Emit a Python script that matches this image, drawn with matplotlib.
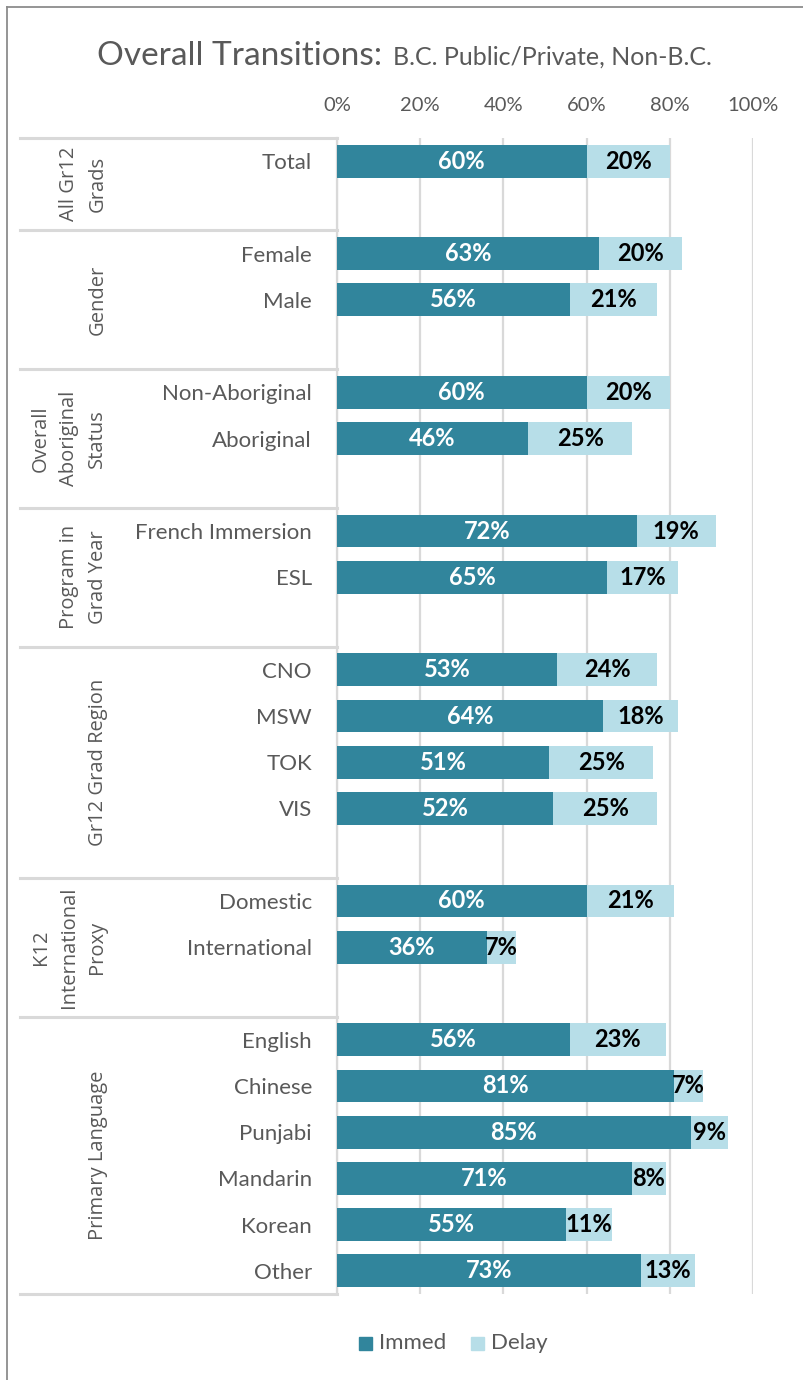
import matplotlib
matplotlib.use('Agg')
import matplotlib.pyplot as plt
import matplotlib.transforms as mtransforms
from matplotlib.lines import Line2D
from matplotlib.patches import Rectangle

# ---------------- data ----------------
categories = ["Total", "Female", "Male", "Non-Aboriginal", "Aboriginal",
              "French Immersion", "ESL", "CNO", "MSW", "TOK", "VIS",
              "Domestic", "International", "English", "Chinese", "Punjabi",
              "Mandarin", "Korean", "Other"]
immed = [60, 63, 56, 60, 46, 72, 65, 53, 64, 51, 52, 60, 36, 56, 81, 85, 71, 55, 73]
delay = [20, 20, 21, 20, 25, 19, 17, 24, 18, 25, 25, 21, 7, 23, 7, 9, 8, 11, 13]
groups = ["All Gr12\nGrads", "Gender", "Overall\nAboriginal\nStatus",
          "Program in\nGrad Year", "Gr12 Grad Region",
          "K12\nInternational\nProxy", "Primary Language"]
group_sizes = [1, 2, 2, 2, 4, 2, 6]
xticks = [0, 20, 40, 60, 80, 100]
series_names = ["Immed", "Delay"]

# ---------------- style ----------------
W, H = 804, 1380
C_IMMED = "#31859C"
C_DELAY = "#B7DEE8"
GRID = "#D9D9D9"
TXT = "#595959"
FONT = ["Lato", "DejaVu Sans"]
GFONT = ["Open Sans", "DejaVu Sans"]

fig = plt.figure(figsize=(W / 100, H / 100), dpi=100)
ax = fig.add_axes([337 / W, 1 - 1294 / H, 416 / W, 1156 / H])

# slot positions (blank slot after each group except the last)
positions = []
spans = []
slot = 0
for gi, n in enumerate(group_sizes):
    start = slot
    for k in range(n):
        positions.append(slot)
        slot += 1
    if gi < len(group_sizes) - 1:
        slot += 1
    spans.append((start - 0.5, slot - 0.5))
nslots = slot

bh = 0.71
ax.barh(positions, immed, height=bh, color=C_IMMED, zorder=3)
ax.barh(positions, delay, left=immed, height=bh, color=C_DELAY, zorder=3)

for y, a, d in zip(positions, immed, delay):
    ax.text(a / 2, y, f"{a}%", ha="center", va="center", color="white",
            fontsize=17, fontweight="bold", family=FONT, zorder=4)
    ax.text(a + d / 2, y, f"{d}%", ha="center", va="center", color="black",
            fontsize=17, fontweight="bold", family=FONT, zorder=4)

ax.set_xlim(0, 100)
ax.set_ylim(nslots - 0.5, -0.5)
ax.set_xticks(xticks)
ax.set_xticklabels([f"{t}%" for t in xticks], family=FONT, fontsize=14.5, color=TXT)
ax.xaxis.tick_top()
ax.tick_params(axis="x", length=0, pad=17)
ax.set_yticks(positions)
ax.set_yticklabels(categories, family=FONT, fontsize=16, color=TXT)
ax.tick_params(axis="y", length=0, pad=18)
ax.grid(axis="x", color=GRID, lw=1.6, zorder=0)
for s in ["top", "right", "bottom"]:
    ax.spines[s].set_visible(False)
ax.spines["left"].set_color(GRID)
ax.spines["left"].set_linewidth(1.6)

# separators and group labels
blend = mtransforms.blended_transform_factory(fig.transFigure, ax.transData)
x0 = 20 / W
x1 = 337 / W
bounds = sorted(set([b for sp in spans for b in sp]))
for b in bounds:
    ax.add_line(Line2D([x0, x1], [b, b], transform=blend, color=GRID, lw=2.2,
                       clip_on=False, zorder=1))

for g, (a, b) in zip(groups, spans):
    n = g.count("\n") + 1
    cx = (98 - (n - 1) * 29 / 2) / W
    ax.text(cx, (a + b) / 2, g, transform=blend, rotation=90, ha="center",
            va="center", multialignment="center", fontsize=14.5, color=TXT,
            family=GFONT, linespacing=1.55)

# title
fig.text(97 / W, 1 - 65 / H, "Overall Transitions:", fontsize=24, color=TXT,
         family=FONT, ha="left", va="baseline")
fig.text(393 / W, 1 - 65 / H, "B.C. Public/Private, Non-B.C.", fontsize=18,
         color=TXT, family=FONT, ha="left", va="baseline")

# legend
ly = 1 - 1343 / H
for xpx, name, col in [(359, series_names[0], C_IMMED), (471, series_names[1], C_DELAY)]:
    fig.patches.append(Rectangle(((xpx) / W, ly - 7 / H), 13 / W, 13 / H,
                                 transform=fig.transFigure, color=col))
    fig.text((xpx + 20) / W, ly, name, fontsize=16, color=TXT, family=FONT,
             ha="left", va="center")

# outer border (left and top)
fig.add_artist(Line2D([7 / W, 7 / W], [0, 1 - 7 / H], transform=fig.transFigure,
                      color="#8C8C8C", lw=1.3))
fig.add_artist(Line2D([7 / W, 1], [1 - 7 / H, 1 - 7 / H], transform=fig.transFigure,
                      color="#8C8C8C", lw=1.3))

fig.savefig("out.png", dpi=100, facecolor="white")
